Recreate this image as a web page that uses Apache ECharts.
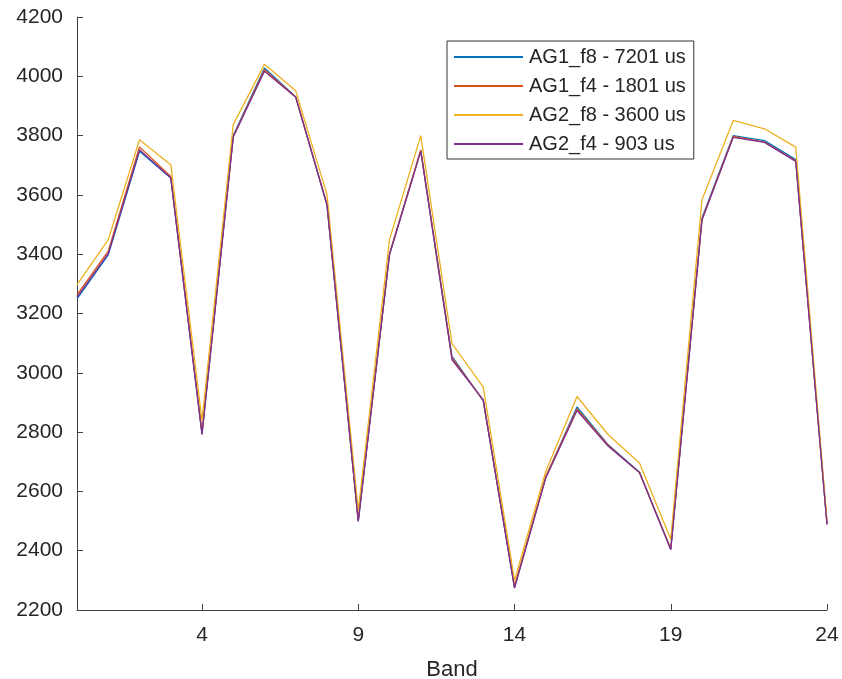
<!DOCTYPE html>
<html>
<head>
<meta charset="utf-8">
<script src="https://cdn.jsdelivr.net/npm/echarts@6/dist/echarts.min.js"></script>
<style>
    html, body { margin: 0; padding: 0; background: #fff; }
    #main { width: 842px; height: 679px; }
</style>
</head>
<body>
<div id="main"></div>
<script>
// band index along x (first point sits on the y axis)
var bands = ['0', '1', '2', '3', '4', '5', '6', '7', '8', '9', '10', '11', '12',
    '13', '14', '15', '16', '17', '18', '19', '20', '21', '22', '23', '24'];
var shownTicks = ['4', '9', '14', '19', '24'];

var seriesNames = ['AG1_f8 - 7201 us', 'AG1_f4 - 1801 us', 'AG2_f8 - 3600 us', 'AG2_f4 - 903 us'];
var seriesColors = ['#0072BD', '#D95319', '#EDB120', '#7E2F8E'];

var ag1F8 = [3249, 3398, 3747, 3657, 2795, 3800, 4028, 3930, 3565, 2500, 3400, 3750, 3055,
    2905, 2276, 2648, 2885, 2757, 2665, 2405, 3522, 3800, 3783, 3719, 2490];
var ag1F4 = [3263, 3410, 3762, 3662, 2800, 3797, 4022, 3930, 3568, 2502, 3402, 3752, 3050,
    2907, 2280, 2650, 2878, 2755, 2663, 2407, 3518, 3797, 3778, 3715, 2492];
var ag2F8 = [3297, 3449, 3786, 3702, 2840, 3837, 4041, 3951, 3601, 2535, 3449, 3800, 3098,
    2952, 2300, 2667, 2920, 2791, 2696, 2439, 3584, 3851, 3823, 3761, 2500];
var ag2F4 = [3255, 3402, 3752, 3658, 2791, 3795, 4017, 3929, 3567, 2499, 3398, 3747, 3044,
    2909, 2274, 2645, 2873, 2752, 2664, 2403, 3515, 3794, 3777, 3713, 2488];

var allValues = [ag1F8, ag1F4, ag2F8, ag2F4];

var axisColor = '#404040';
var fontFamily = '"Liberation Sans", Arial, sans-serif';

function tickShown(index, value) {
    return shownTicks.indexOf(bands[index]) !== -1;
}

var myChart = echarts.init(document.getElementById('main'));
var option = {
    animation: false,
    backgroundColor: '#fff',
    textStyle: { fontFamily: fontFamily },
    grid: {
        left: 77,
        right: 15,
        top: 17,
        bottom: 69,
        containLabel: false,
        outerBoundsMode: 'none'
    },
    legend: {
        orient: 'vertical',
        left: 447,
        top: 41,
        padding: [6, 8, 5, 7],
        itemWidth: 69,
        itemHeight: 2,
        itemGap: 9,
        icon: 'rect',
        borderColor: '#333',
        borderWidth: 1,
        borderRadius: 0,
        backgroundColor: '#fff',
        textStyle: {
            color: '#262626',
            fontSize: 20,
            lineHeight: 20,
            padding: [0, 0, 0, 1]
        },
        data: seriesNames
    },
    xAxis: {
        type: 'category',
        boundaryGap: false,
        data: bands,
        name: 'Band',
        nameLocation: 'middle',
        nameGap: 49,
        nameTextStyle: { color: '#262626', fontSize: 22 },
        axisLine: { lineStyle: { color: axisColor, width: 1 } },
        axisTick: { inside: true, length: 6, interval: tickShown, lineStyle: { color: axisColor } },
        axisLabel: { color: '#262626', fontSize: 21, margin: 15, interval: tickShown },
        splitLine: { show: false }
    },
    yAxis: {
        type: 'value',
        min: 2200,
        max: 4200,
        interval: 200,
        axisLine: { show: true, lineStyle: { color: axisColor, width: 1 } },
        axisTick: { show: true, inside: true, length: 6, lineStyle: { color: axisColor } },
        axisLabel: {
            color: '#262626',
            fontSize: 21,
            margin: 14,
            formatter: function (v) { return String(v); }
        },
        splitLine: { show: false }
    },
    series: seriesNames.map(function (name, i) {
        return {
            name: name,
            type: 'line',
            data: allValues[i],
            symbol: 'none',
            color: seriesColors[i],
            lineStyle: { width: 1.3, color: seriesColors[i] },
            itemStyle: { color: seriesColors[i] }
        };
    })
};
myChart.setOption(option);
</script>
</body>
</html>
